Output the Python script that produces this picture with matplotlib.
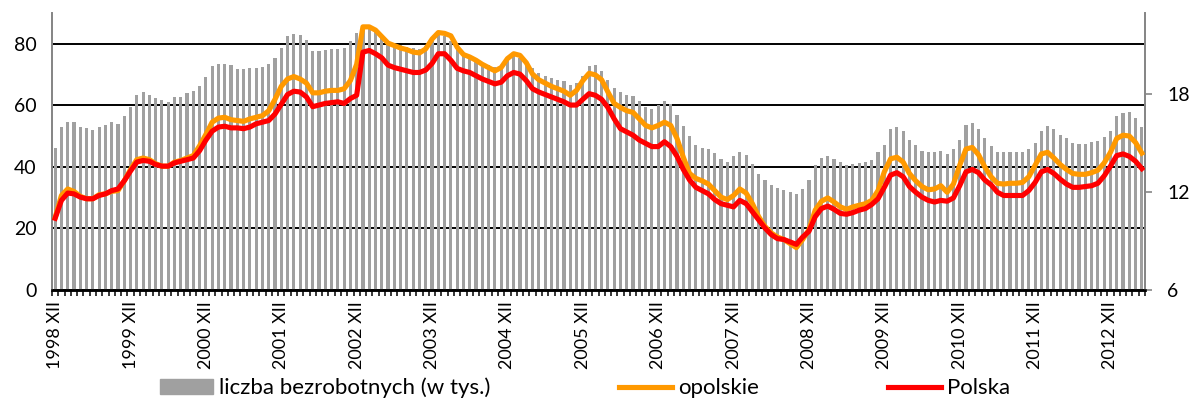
import matplotlib
matplotlib.use("Agg")
import matplotlib.pyplot as plt
from matplotlib.lines import Line2D
from matplotlib.patches import Patch

# dane miesieczne od 1998 XII do 2013 V
bezrobotni = [46.1, 52.8, 54.6, 54.5, 53.0, 52.5, 52.0, 53.1, 53.6, 54.5, 54.0, 56.4,
              59.6, 63.3, 64.3, 63.5, 62.3, 61.7, 61.1, 62.7, 62.7, 63.9, 64.5, 66.3,
              69.3, 72.8, 73.5, 73.5, 73.0, 71.8, 71.8, 72.1, 72.1, 72.6, 73.5, 75.4,
              78.7, 82.4, 83.3, 82.8, 81.3, 77.6, 77.8, 78.0, 78.3, 78.3, 78.6, 80.8,
              83.5, 85.5, 85.5, 84.5, 82.5, 80.8, 80.0, 79.5, 79.0, 78.5, 78.3, 79.2,
              81.5, 82.8, 82.6, 81.0, 78.4, 76.5, 75.0, 74.3, 73.7, 73.2, 72.6, 72.8,
              74.5, 76.0, 75.4, 74.0, 72.1, 70.5, 69.6, 68.8, 68.3, 67.9, 66.7, 67.4,
              69.4, 72.8, 73.2, 71.1, 68.3, 65.6, 64.2, 63.4, 62.9, 61.5, 59.6, 58.9,
              60.2, 61.5, 60.3, 56.9, 53.2, 49.9, 47.0, 46.1, 45.7, 44.4, 42.5, 41.7,
              43.4, 45.0, 43.8, 41.0, 37.7, 35.8, 34.1, 33.1, 32.6, 31.9, 31.1, 32.8,
              35.6, 40.5, 42.8, 43.6, 42.5, 41.7, 40.7, 40.9, 41.3, 41.6, 42.3, 44.7,
              47.2, 52.2, 52.9, 51.5, 48.6, 47.0, 45.3, 44.7, 44.7, 45.3, 44.2, 45.9,
              48.8, 53.6, 54.1, 52.3, 49.3, 46.9, 45.0, 44.8, 44.8, 45.0, 45.0, 45.9,
              47.9, 51.8, 53.4, 52.3, 50.4, 49.3, 47.9, 47.4, 47.4, 48.0, 48.3, 49.6,
              51.8, 56.4, 57.4, 57.7, 55.8, 53.0]

opolskie = [10.45, 11.8, 12.2, 12.05, 11.75, 11.6, 11.6, 11.85, 11.9, 12.05, 12.1, 12.7,
            13.4, 14.0, 14.1, 14.0, 13.75, 13.6, 13.6, 13.85, 13.95, 14.1, 14.25, 14.85,
            15.55, 16.3, 16.55, 16.6, 16.45, 16.4, 16.35, 16.5, 16.6, 16.7, 17.0, 17.7,
            18.5, 18.95, 19.1, 18.95, 18.7, 18.1, 18.1, 18.2, 18.25, 18.25, 18.35, 18.85,
            19.85, 22.15, 22.15, 21.95, 21.55, 21.15, 21.0, 20.85, 20.75, 20.6, 20.55, 20.8,
            21.4, 21.8, 21.75, 21.6, 20.9, 20.45, 20.3, 20.1, 19.85, 19.65, 19.45, 19.65,
            20.2, 20.5, 20.4, 19.95, 19.25, 18.9, 18.7, 18.5, 18.35, 18.2, 17.95, 18.25,
            18.85, 19.3, 19.2, 18.9, 18.15, 17.45, 17.2, 17.0, 16.9, 16.5, 16.1, 15.95,
            16.1, 16.3, 16.1, 15.3, 14.15, 13.15, 12.85, 12.7, 12.5, 12.1, 11.7, 11.55,
            11.8, 12.2, 11.95, 11.3, 10.5, 9.9, 9.5, 9.25, 9.1, 8.85, 8.6, 9.1,
            9.7, 10.9, 11.45, 11.65, 11.4, 11.1, 10.95, 11.1, 11.2, 11.3, 11.5, 12.1,
            13.25, 14.05, 14.15, 13.85, 13.15, 12.7, 12.35, 12.15, 12.2, 12.4, 12.0, 12.5,
            13.65, 14.65, 14.75, 14.3, 13.55, 12.95, 12.55, 12.5, 12.55, 12.55, 12.6, 12.95,
            13.65, 14.35, 14.45, 14.1, 13.7, 13.4, 13.15, 13.1, 13.1, 13.2, 13.35, 13.8,
            14.45, 15.3, 15.5, 15.45, 15.05, 14.4]

polska = [10.4, 11.5, 11.95, 11.9, 11.7, 11.6, 11.6, 11.8, 11.9, 12.1, 12.2, 12.7,
          13.3, 13.85, 13.95, 13.9, 13.7, 13.6, 13.6, 13.8, 13.9, 14.0, 14.1, 14.55,
          15.2, 15.75, 16.0, 16.05, 15.95, 15.95, 15.9, 16.0, 16.2, 16.3, 16.4, 16.8,
          17.4, 18.0, 18.2, 18.15, 17.85, 17.25, 17.35, 17.45, 17.5, 17.55, 17.45, 17.75,
          17.95, 20.6, 20.7, 20.5, 20.25, 19.8, 19.65, 19.55, 19.45, 19.35, 19.35, 19.5,
          19.9, 20.5, 20.5, 20.1, 19.6, 19.45, 19.35, 19.15, 18.95, 18.8, 18.65, 18.75,
          19.15, 19.35, 19.25, 18.85, 18.35, 18.15, 18.0, 17.85, 17.7, 17.55, 17.35, 17.35,
          17.7, 18.05, 17.95, 17.7, 17.2, 16.5, 15.9, 15.7, 15.5, 15.2, 15.0, 14.8,
          14.8, 15.1, 14.8, 14.2, 13.4, 12.75, 12.3, 12.1, 11.9, 11.55, 11.3, 11.2,
          11.1, 11.5, 11.3, 10.8, 10.3, 9.8, 9.4, 9.15, 9.1, 8.95, 8.8, 9.25,
          9.6, 10.5, 11.0, 11.15, 10.95, 10.7, 10.65, 10.75, 10.9, 11.0, 11.25, 11.6,
          12.3, 13.05, 13.2, 12.95, 12.35, 12.0, 11.7, 11.5, 11.4, 11.5, 11.45, 11.65,
          12.4, 13.25, 13.4, 13.2, 12.75, 12.45, 12.0, 11.8, 11.8, 11.8, 11.8, 12.1,
          12.6, 13.25, 13.4, 13.15, 12.8, 12.5, 12.3, 12.3, 12.35, 12.4, 12.55, 13.0,
          13.6, 14.25, 14.35, 14.2, 13.9, 13.45]

etykiety = ["1998 XII", "1999 XII", "2000 XII", "2001 XII", "2002 XII", "2003 XII",
            "2004 XII", "2005 XII", "2006 XII", "2007 XII", "2008 XII", "2009 XII",
            "2010 XII", "2011 XII", "2012 XII"]

plt.rcParams['font.family'] = ['Lato', 'DejaVu Sans']
FS = 14
SZARY = '#a0a0a0'
OS = '#868686'

fig = plt.figure(figsize=(11.89, 4.0), dpi=100)
ax = fig.add_axes([52/1189, 1 - 290/400, (1145 - 52)/1189, (290 - 13)/400])

n = len(bezrobotni)
x = list(range(n))
ax.bar(x, bezrobotni, width=0.5, color=SZARY, zorder=2)
ax.set_axisbelow(True)
ax.yaxis.grid(True, color='black', lw=1.4)
ax.set_ylim(0, 90)
ax.set_yticks([0, 20, 40, 60, 80])
ax.set_xlim(-0.5, n - 0.5)

ax.set_xticks([12 * i for i in range(len(etykiety))])
ax.set_xticklabels(etykiety, rotation=90, fontsize=13)
ax.tick_params(axis='x', which='major', length=0, pad=8)
ax.set_xticks([k - 0.5 for k in range(n + 1)], minor=True)
ax.tick_params(axis='x', which='minor', length=4, width=1.1, color='black', direction='out')
ax.tick_params(axis='y', length=0, pad=11, labelsize=FS)

ax2 = ax.twinx()
ax2.plot(x, opolskie, color='#ff9900', lw=3.7, solid_joinstyle='round', zorder=3)
ax2.plot(x, polska, color='#ff0000', lw=3.7, solid_joinstyle='round', zorder=4)
ax2.set_ylim(6, 23)
ax2.set_yticks([6, 12, 18])
ax2.tick_params(axis='y', length=5, width=1.2, color=OS, pad=11, labelsize=FS)

for a in (ax, ax2):
    a.spines['top'].set_visible(False)
    a.spines['left'].set_color(OS)
    a.spines['left'].set_linewidth(1.3)
    a.spines['right'].set_color(OS)
    a.spines['right'].set_linewidth(1.3)
    a.spines['bottom'].set_color('black')
    a.spines['bottom'].set_linewidth(1.8)

uchwyty = [Patch(color=SZARY),
           Line2D([], [], color='#ff9900', lw=3.7),
           Line2D([], [], color='#ff0000', lw=3.7)]
fig.legend(uchwyty, ["liczba bezrobotnych (w tys.)", "opolskie", "Polska"],
           ncol=3, loc='center left', bbox_to_anchor=(160/1189, 1 - 388/400),
           frameon=False, fontsize=16, handlelength=2.4, handletextpad=0.25,
           columnspacing=5.8, borderpad=0, borderaxespad=0)

fig.savefig("out.png", dpi=100)
